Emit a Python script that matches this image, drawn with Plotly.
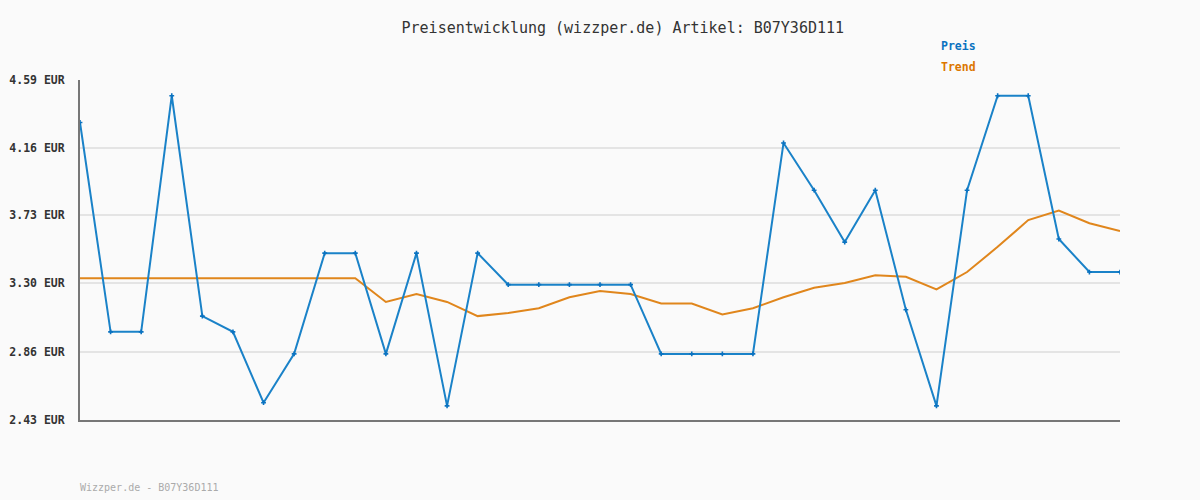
import plotly.graph_objects as go

preis = [4.32, 2.99, 2.99, 4.49, 3.09, 2.99, 2.54, 2.85, 3.49, 3.49,
         2.85, 3.49, 2.52, 3.49, 3.29, 3.29, 3.29, 3.29, 3.29, 2.85,
         2.85, 2.85, 2.85, 4.19, 3.89, 3.56, 3.89, 3.13, 2.52, 3.89,
         4.49, 4.49, 3.58, 3.37, 3.37]
trend = [3.33, 3.33, 3.33, 3.33, 3.33, 3.33, 3.33, 3.33, 3.33, 3.33,
         3.18, 3.23, 3.18, 3.09, 3.11, 3.14, 3.21, 3.25, 3.23, 3.17,
         3.17, 3.10, 3.14, 3.21, 3.27, 3.30, 3.35, 3.34, 3.26, 3.37,
         3.53, 3.70, 3.76, 3.68, 3.63]
x = list(range(len(preis)))
tick_vals = [2.43, 2.86, 3.30, 3.73, 4.16, 4.59]
tick_text = ["2.43 EUR", "2.86 EUR", "3.30 EUR", "3.73 EUR", "4.16 EUR", "4.59 EUR"]

BLUE = "#1a82c8"
ORANGE = "#e0861c"
MONO = "DejaVu Sans Mono, monospace"


def px_to_paper(px, py):
    return (px - 80) / 1040, (420 - py) / 340


annots = []
for txt, col, (px, py) in [("Preis", "#0a72c0", (939, 46)), ("Trend", "#dc7600", (939, 67))]:
    ax, ay = px_to_paper(px, py)
    annots.append(dict(text=txt, x=ax, y=ay, xref="paper", yref="paper",
                       xanchor="left", yanchor="middle", showarrow=False,
                       font=dict(family=MONO, size=11.5, color=col, weight="bold")))
fx, fy = px_to_paper(78, 487)
annots.append(dict(text="Wizzper.de - B07Y36D111", x=fx, y=fy, xref="paper", yref="paper",
                   xanchor="left", yanchor="middle", showarrow=False,
                   font=dict(family=MONO, size=10, color="#aaaaaa")))

fig = go.Figure()
fig.add_trace(go.Scatter(x=x, y=trend, mode="lines", name="Trend",
                         line=dict(color=ORANGE, width=2)))
fig.add_trace(go.Scatter(x=x, y=preis, mode="lines+markers", name="Preis",
                         line=dict(color=BLUE, width=2),
                         marker=dict(symbol="cross", size=4, color="#0a72c0")))

fig.update_layout(
    width=1200, height=500,
    paper_bgcolor="#fafafa", plot_bgcolor="#fafafa",
    margin=dict(l=80, r=80, t=80, b=80),
    showlegend=False,
    title=dict(text="Preisentwicklung (wizzper.de) Artikel: B07Y36D111",
               x=0.519, xanchor="center", y=0.944, yanchor="middle",
               font=dict(family=MONO, size=15, color="#333333")),
    xaxis=dict(range=[0, 34], showgrid=False, showticklabels=False, zeroline=False,
               showline=True, linecolor="#777777", linewidth=2, ticks="",
               automargin=False),
    yaxis=dict(range=[2.43, 4.59], tickvals=tick_vals, ticktext=tick_text,
               showgrid=True, gridcolor="#e4e4e4", gridwidth=2, zeroline=False,
               showline=True, linecolor="#777777", linewidth=2,
               ticklabelstandoff=11, automargin=False,
               tickfont=dict(family=MONO, size=11.5, color="#333333", weight="bold")),
    annotations=annots,
)

fig.write_html("out.html", config={"displayModeBar": False},
               post_script="document.body.style.margin='0';document.body.style.overflow='hidden';")
